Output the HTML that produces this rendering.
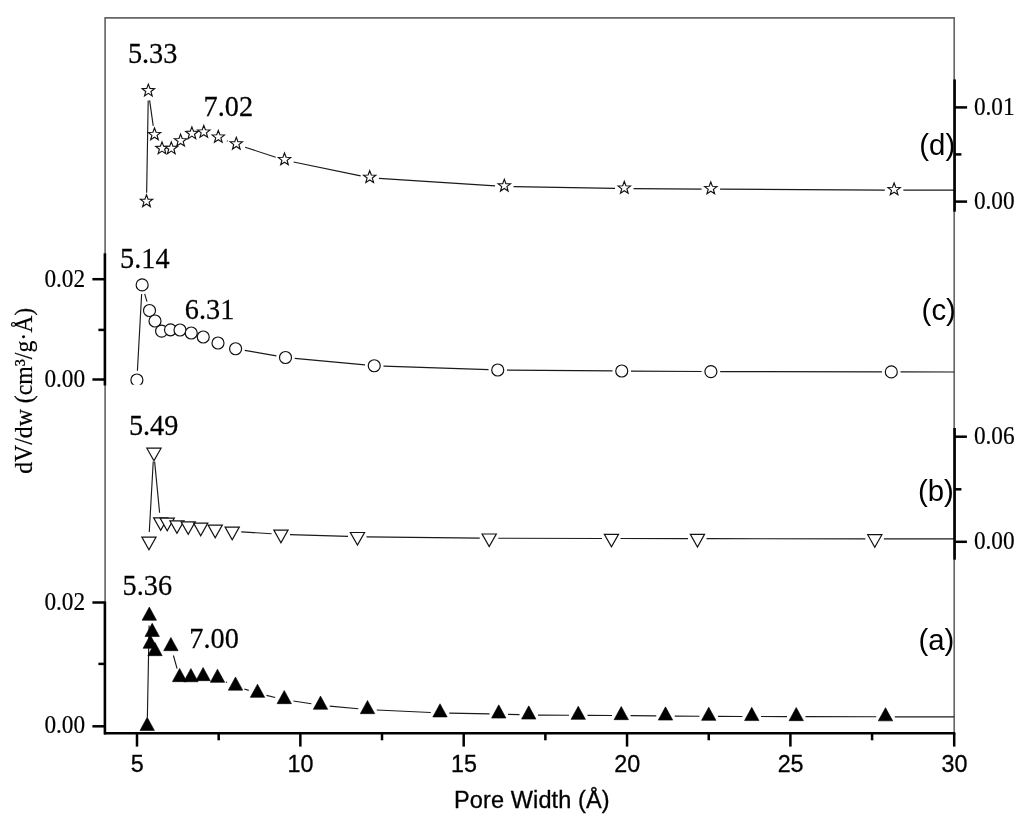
<!DOCTYPE html>
<html lang="en"><head><meta charset="utf-8"><title>Pore width distribution</title>
<style>html,body{margin:0;padding:0;background:#fff}svg{display:block;filter:blur(0.35px)}</style></head>
<body>
<svg width="1024" height="823" viewBox="0 0 1024 823">
<rect width="100%" height="100%" fill="#fff"/>
<g fill="none" stroke="#666" stroke-width="1.65">
<path d="M105.10 733.30V17.90H954.20V733.30"/>
</g>
<defs><clipPath id="cc"><rect x="100" y="240" width="860" height="144.8"/></clipPath></defs>
<path d="M146.65 192.65L148.20 100.50M149.63 100.41L153.22 125.94M226.95 140.87L227.65 141.13M245.10 147.26L275.70 157.24M293.56 161.98L360.64 175.92M378.93 178.39L495.07 185.81M513.55 186.57L615.05 188.43M633.55 188.65L701.55 189.05M720.05 189.15L884.85 190.05M903.35 190.10L954.20 190.10" fill="none" stroke="#1a1a1a" stroke-width="1.15"/>
<path d="M137.41 370.76L141.64 294.14M144.70 293.79L146.95 301.61M226.79 345.87L226.81 345.88M244.71 350.35L276.39 355.90M294.71 358.36L365.04 364.89M383.49 366.07L488.51 369.68M507.00 370.07L612.50 370.93M631.00 371.06L701.65 371.54M720.15 371.62L882.05 371.88M900.55 371.91L954.20 372.00" fill="none" stroke="#1a1a1a" stroke-width="1.15"/>
<path d="M149.27 532.06L153.23 461.64M154.64 461.61L159.61 512.79M241.23 531.87L271.52 533.73M290.00 534.59L348.00 536.41M366.50 536.81L479.75 538.09M498.25 538.22L602.00 538.48M620.50 538.51L688.00 538.59M706.50 538.62L865.35 538.88M883.85 538.90L954.20 538.90" fill="none" stroke="#1a1a1a" stroke-width="1.15"/>
<path d="M147.38 717.15L149.12 625.45M173.40 655.51L177.10 668.69M225.99 681.98L227.01 682.42M244.29 688.98L248.71 690.42M266.50 695.42L275.25 697.48M293.39 701.01L311.36 703.79M329.71 706.06L358.29 708.74M376.74 710.02L430.76 712.48M449.25 713.07L489.50 713.83M507.99 714.31L519.51 714.69M538.00 715.06L569.00 715.24M587.50 715.36L612.00 715.54M630.50 715.68L656.25 715.92M674.75 716.06L699.50 716.24M718.00 716.34L742.50 716.46M761.00 716.52L787.00 716.58M805.50 716.62L876.25 716.78M894.75 716.80L954.20 716.80" fill="none" stroke="#1a1a1a" stroke-width="1.15"/>
<g fill="#fff" stroke="#111" stroke-width="1.15" stroke-linejoin="miter">
<polygon points="146.50,194.80 148.10,199.09 152.68,199.29 149.10,202.14 150.32,206.56 146.50,204.03 142.68,206.56 143.90,202.14 140.32,199.29 144.90,199.09"/>
<polygon points="148.35,84.15 149.95,88.44 154.53,88.64 150.95,91.49 152.17,95.91 148.35,93.38 144.53,95.91 145.75,91.49 142.17,88.64 146.75,88.44"/>
<polygon points="154.50,128.00 156.10,132.29 160.68,132.49 157.10,135.34 158.32,139.76 154.50,137.23 150.68,139.76 151.90,135.34 148.32,132.49 152.90,132.29"/>
<polygon points="162.00,141.90 163.60,146.19 168.18,146.39 164.60,149.24 165.82,153.66 162.00,151.13 158.18,153.66 159.40,149.24 155.82,146.39 160.40,146.19"/>
<polygon points="171.30,141.90 172.90,146.19 177.48,146.39 173.90,149.24 175.12,153.66 171.30,151.13 167.48,153.66 168.70,149.24 165.12,146.39 169.70,146.19"/>
<polygon points="180.60,134.20 182.20,138.49 186.78,138.69 183.20,141.54 184.42,145.96 180.60,143.43 176.78,145.96 178.00,141.54 174.42,138.69 179.00,138.49"/>
<polygon points="191.90,126.90 193.50,131.19 198.08,131.39 194.50,134.24 195.72,138.66 191.90,136.13 188.08,138.66 189.30,134.24 185.72,131.39 190.30,131.19"/>
<polygon points="203.80,125.50 205.40,129.79 209.98,129.99 206.40,132.84 207.62,137.26 203.80,134.73 199.98,137.26 201.20,132.84 197.62,129.99 202.20,129.79"/>
<polygon points="218.30,130.50 219.90,134.79 224.48,134.99 220.90,137.84 222.12,142.26 218.30,139.73 214.48,142.26 215.70,137.84 212.12,134.99 216.70,134.79"/>
<polygon points="236.30,137.30 237.90,141.59 242.48,141.79 238.90,144.64 240.12,149.06 236.30,146.53 232.48,149.06 233.70,144.64 230.12,141.79 234.70,141.59"/>
<polygon points="284.50,153.00 286.10,157.29 290.68,157.49 287.10,160.34 288.32,164.76 284.50,162.23 280.68,164.76 281.90,160.34 278.32,157.49 282.90,157.29"/>
<polygon points="369.70,170.70 371.30,174.99 375.88,175.19 372.30,178.04 373.52,182.46 369.70,179.93 365.88,182.46 367.10,178.04 363.52,175.19 368.10,174.99"/>
<polygon points="504.30,179.30 505.90,183.59 510.48,183.79 506.90,186.64 508.12,191.06 504.30,188.53 500.48,191.06 501.70,186.64 498.12,183.79 502.70,183.59"/>
<polygon points="624.30,181.50 625.90,185.79 630.48,185.99 626.90,188.84 628.12,193.26 624.30,190.73 620.48,193.26 621.70,188.84 618.12,185.99 622.70,185.79"/>
<polygon points="710.80,182.00 712.40,186.29 716.98,186.49 713.40,189.34 714.62,193.76 710.80,191.23 706.98,193.76 708.20,189.34 704.62,186.49 709.20,186.29"/>
<polygon points="894.10,183.00 895.70,187.29 900.28,187.49 896.70,190.34 897.92,194.76 894.10,192.23 890.28,194.76 891.50,190.34 887.92,187.49 892.50,187.29"/>
</g>
<g fill="#fff" stroke="#111" stroke-width="1.2" clip-path="url(#cc)">
<circle cx="136.90" cy="380.00" r="6"/>
<circle cx="142.15" cy="284.90" r="6"/>
<circle cx="149.50" cy="310.50" r="6"/>
<circle cx="155.00" cy="321.00" r="6"/>
<circle cx="161.60" cy="331.10" r="6"/>
<circle cx="170.50" cy="329.80" r="6"/>
<circle cx="180.00" cy="330.00" r="6"/>
<circle cx="191.25" cy="333.00" r="6"/>
<circle cx="203.25" cy="337.00" r="6"/>
<circle cx="218.00" cy="343.00" r="6"/>
<circle cx="235.60" cy="348.75" r="6"/>
<circle cx="285.50" cy="357.50" r="6"/>
<circle cx="374.25" cy="365.75" r="6"/>
<circle cx="497.75" cy="370.00" r="6"/>
<circle cx="621.75" cy="371.00" r="6"/>
<circle cx="710.90" cy="371.60" r="6"/>
<circle cx="891.30" cy="371.90" r="6"/>
</g>
<g fill="#fff" stroke="#111" stroke-width="1.2">
<polygon points="141.85,537.10 156.05,537.10 148.95,549.70"/>
<polygon points="146.85,448.20 161.05,448.20 153.95,460.80"/>
<polygon points="153.60,517.80 167.80,517.80 160.70,530.40"/>
<polygon points="160.10,518.10 174.30,518.10 167.20,530.70"/>
<polygon points="169.85,520.80 184.05,520.80 176.95,533.40"/>
<polygon points="181.10,521.80 195.30,521.80 188.20,534.40"/>
<polygon points="193.60,523.10 207.80,523.10 200.70,535.70"/>
<polygon points="208.10,525.10 222.30,525.10 215.20,537.70"/>
<polygon points="225.10,527.10 239.30,527.10 232.20,539.70"/>
<polygon points="273.85,530.10 288.05,530.10 280.95,542.70"/>
<polygon points="350.35,532.50 364.55,532.50 357.45,545.10"/>
<polygon points="482.10,534.00 496.30,534.00 489.20,546.60"/>
<polygon points="604.35,534.30 618.55,534.30 611.45,546.90"/>
<polygon points="690.35,534.40 704.55,534.40 697.45,547.00"/>
<polygon points="867.70,534.70 881.90,534.70 874.80,547.30"/>
</g>
<g fill="#000" stroke="#000" stroke-width="0.6">
<polygon points="140.00,730.47 154.40,730.47 147.20,717.27"/>
<polygon points="142.10,620.27 156.50,620.27 149.30,607.07"/>
<polygon points="145.00,636.47 159.40,636.47 152.20,623.27"/>
<polygon points="143.10,648.27 157.50,648.27 150.30,635.07"/>
<polygon points="147.80,655.67 162.20,655.67 155.00,642.47"/>
<polygon points="163.70,650.67 178.10,650.67 170.90,637.47"/>
<polygon points="172.40,681.67 186.80,681.67 179.60,668.47"/>
<polygon points="183.70,681.77 198.10,681.77 190.90,668.57"/>
<polygon points="195.90,680.67 210.30,680.67 203.10,667.47"/>
<polygon points="210.30,682.37 224.70,682.37 217.50,669.17"/>
<polygon points="228.30,690.17 242.70,690.17 235.50,676.97"/>
<polygon points="250.30,697.37 264.70,697.37 257.50,684.17"/>
<polygon points="277.05,703.67 291.45,703.67 284.25,690.47"/>
<polygon points="313.30,709.27 327.70,709.27 320.50,696.07"/>
<polygon points="360.30,713.67 374.70,713.67 367.50,700.47"/>
<polygon points="432.80,716.97 447.20,716.97 440.00,703.77"/>
<polygon points="491.55,718.07 505.95,718.07 498.75,704.87"/>
<polygon points="521.55,719.07 535.95,719.07 528.75,705.87"/>
<polygon points="571.05,719.37 585.45,719.37 578.25,706.17"/>
<polygon points="614.05,719.67 628.45,719.67 621.25,706.47"/>
<polygon points="658.30,720.07 672.70,720.07 665.50,706.87"/>
<polygon points="701.55,720.37 715.95,720.37 708.75,707.17"/>
<polygon points="744.55,720.57 758.95,720.57 751.75,707.37"/>
<polygon points="789.05,720.67 803.45,720.67 796.25,707.47"/>
<polygon points="878.30,720.87 892.70,720.87 885.50,707.67"/>
</g>
<g fill="none" stroke="#000" stroke-width="2.6" stroke-linecap="butt">
<path d="M104.00 733.30H955.30"/>
<path d="M104.90 601.50V734.40"/>
<path d="M104.90 253.30V385.50"/>
<path d="M954.60 79.40V211.70"/>
<path d="M954.60 428.00V559.70"/>
</g>
<g fill="none" stroke="#000" stroke-width="2.5">
<path d="M137.00 733V746.6"/>
<path d="M300.35 733V746.6"/>
<path d="M463.70 733V746.6"/>
<path d="M627.05 733V746.6"/>
<path d="M790.40 733V746.6"/>
<path d="M954.20 733V746.6"/>
<path d="M218.68 733V740.3"/>
<path d="M382.02 733V740.3"/>
<path d="M545.38 733V740.3"/>
<path d="M708.73 733V740.3"/>
<path d="M872.08 733V740.3"/>
<path d="M92.40 602.50H104.90"/>
<path d="M98.40 663.90H104.90"/>
<path d="M92.40 726.30H104.90"/>
<path d="M92.40 279.20H104.90"/>
<path d="M98.40 329.90H104.90"/>
<path d="M92.40 379.50H104.90"/>
<path d="M954.90 107.40H967.10"/>
<path d="M954.90 154.40H961.40"/>
<path d="M954.90 201.60H967.10"/>
<path d="M954.90 436.70H966.90"/>
<path d="M954.90 489.30H961.40"/>
<path d="M954.90 541.80H966.90"/>
</g>
<text transform="translate(127.90,63.40) scale(0.937,1)" font-size="30.20" font-family="'Liberation Serif','Times New Roman',serif" text-anchor="start" fill="#000" stroke="#000" stroke-width="0.25" >5.33</text>
<text transform="translate(203.60,115.80) scale(0.937,1)" font-size="30.20" font-family="'Liberation Serif','Times New Roman',serif" text-anchor="start" fill="#000" stroke="#000" stroke-width="0.25" >7.02</text>
<text transform="translate(120.10,267.90) scale(0.937,1)" font-size="30.20" font-family="'Liberation Serif','Times New Roman',serif" text-anchor="start" fill="#000" stroke="#000" stroke-width="0.25" >5.14</text>
<text transform="translate(184.80,318.70) scale(0.937,1)" font-size="30.20" font-family="'Liberation Serif','Times New Roman',serif" text-anchor="start" fill="#000" stroke="#000" stroke-width="0.25" >6.31</text>
<text transform="translate(128.90,435.00) scale(0.937,1)" font-size="30.20" font-family="'Liberation Serif','Times New Roman',serif" text-anchor="start" fill="#000" stroke="#000" stroke-width="0.25" >5.49</text>
<text transform="translate(122.60,595.40) scale(0.937,1)" font-size="30.20" font-family="'Liberation Serif','Times New Roman',serif" text-anchor="start" fill="#000" stroke="#000" stroke-width="0.25" >5.36</text>
<text transform="translate(189.30,647.50) scale(0.937,1)" font-size="30.20" font-family="'Liberation Serif','Times New Roman',serif" text-anchor="start" fill="#000" stroke="#000" stroke-width="0.25" >7.00</text>
<text transform="translate(85.10,609.65) scale(0.930,1)" font-size="25.00" font-family="'Liberation Serif','Times New Roman',serif" text-anchor="end" fill="#000" stroke="#000" stroke-width="0.20" >0.02</text>
<text transform="translate(85.10,733.45) scale(0.930,1)" font-size="25.00" font-family="'Liberation Serif','Times New Roman',serif" text-anchor="end" fill="#000" stroke="#000" stroke-width="0.20" >0.00</text>
<text transform="translate(85.10,286.85) scale(0.930,1)" font-size="25.00" font-family="'Liberation Serif','Times New Roman',serif" text-anchor="end" fill="#000" stroke="#000" stroke-width="0.20" >0.02</text>
<text transform="translate(85.10,387.25) scale(0.930,1)" font-size="25.00" font-family="'Liberation Serif','Times New Roman',serif" text-anchor="end" fill="#000" stroke="#000" stroke-width="0.20" >0.00</text>
<text transform="translate(973.90,114.50) scale(0.930,1)" font-size="25.00" font-family="'Liberation Serif','Times New Roman',serif" text-anchor="start" fill="#000" stroke="#000" stroke-width="0.20" >0.01</text>
<text transform="translate(973.90,208.80) scale(0.930,1)" font-size="25.00" font-family="'Liberation Serif','Times New Roman',serif" text-anchor="start" fill="#000" stroke="#000" stroke-width="0.20" >0.00</text>
<text transform="translate(973.90,444.20) scale(0.930,1)" font-size="25.00" font-family="'Liberation Serif','Times New Roman',serif" text-anchor="start" fill="#000" stroke="#000" stroke-width="0.20" >0.06</text>
<text transform="translate(973.90,549.20) scale(0.930,1)" font-size="25.00" font-family="'Liberation Serif','Times New Roman',serif" text-anchor="start" fill="#000" stroke="#000" stroke-width="0.20" >0.00</text>
<text transform="translate(137.20,771.60) scale(1.000,1)" font-size="23.30" font-family="'Liberation Sans',Arial,sans-serif" text-anchor="middle" fill="#000" stroke="#000" stroke-width="0.30" >5</text>
<text transform="translate(300.55,771.60) scale(1.000,1)" font-size="23.30" font-family="'Liberation Sans',Arial,sans-serif" text-anchor="middle" fill="#000" stroke="#000" stroke-width="0.30" >10</text>
<text transform="translate(463.90,771.60) scale(1.000,1)" font-size="23.30" font-family="'Liberation Sans',Arial,sans-serif" text-anchor="middle" fill="#000" stroke="#000" stroke-width="0.30" >15</text>
<text transform="translate(627.25,771.60) scale(1.000,1)" font-size="23.30" font-family="'Liberation Sans',Arial,sans-serif" text-anchor="middle" fill="#000" stroke="#000" stroke-width="0.30" >20</text>
<text transform="translate(790.60,771.60) scale(1.000,1)" font-size="23.30" font-family="'Liberation Sans',Arial,sans-serif" text-anchor="middle" fill="#000" stroke="#000" stroke-width="0.30" >25</text>
<text transform="translate(954.40,771.60) scale(1.000,1)" font-size="23.30" font-family="'Liberation Sans',Arial,sans-serif" text-anchor="middle" fill="#000" stroke="#000" stroke-width="0.30" >30</text>
<text transform="translate(531.90,808.40) scale(1.000,1)" font-size="23.50" font-family="'Liberation Sans',Arial,sans-serif" text-anchor="middle" fill="#000" stroke="#000" stroke-width="0.30" letter-spacing="0.12">Pore Width (Å)</text>
<text transform="translate(955.20,155.30) scale(1.000,1)" font-size="29.40" font-family="'Liberation Sans',Arial,sans-serif" text-anchor="end" fill="#000" >(d)</text>
<text transform="translate(955.90,319.50) scale(1.000,1)" font-size="29.40" font-family="'Liberation Sans',Arial,sans-serif" text-anchor="end" fill="#000" >(c)</text>
<text transform="translate(953.90,500.90) scale(1.000,1)" font-size="29.40" font-family="'Liberation Sans',Arial,sans-serif" text-anchor="end" fill="#000" >(b)</text>
<text transform="translate(954.30,649.90) scale(1.000,1)" font-size="29.40" font-family="'Liberation Sans',Arial,sans-serif" text-anchor="end" fill="#000" >(a)</text>
<text transform="translate(31.8,390.8) rotate(-90) scale(0.95,1)" font-size="25.0" font-family="'Liberation Serif','Times New Roman',serif" text-anchor="middle" fill="#000" stroke="#000" stroke-width="0.2">dV/dw (cm³/g·Å)</text>
</svg>
</body></html>
